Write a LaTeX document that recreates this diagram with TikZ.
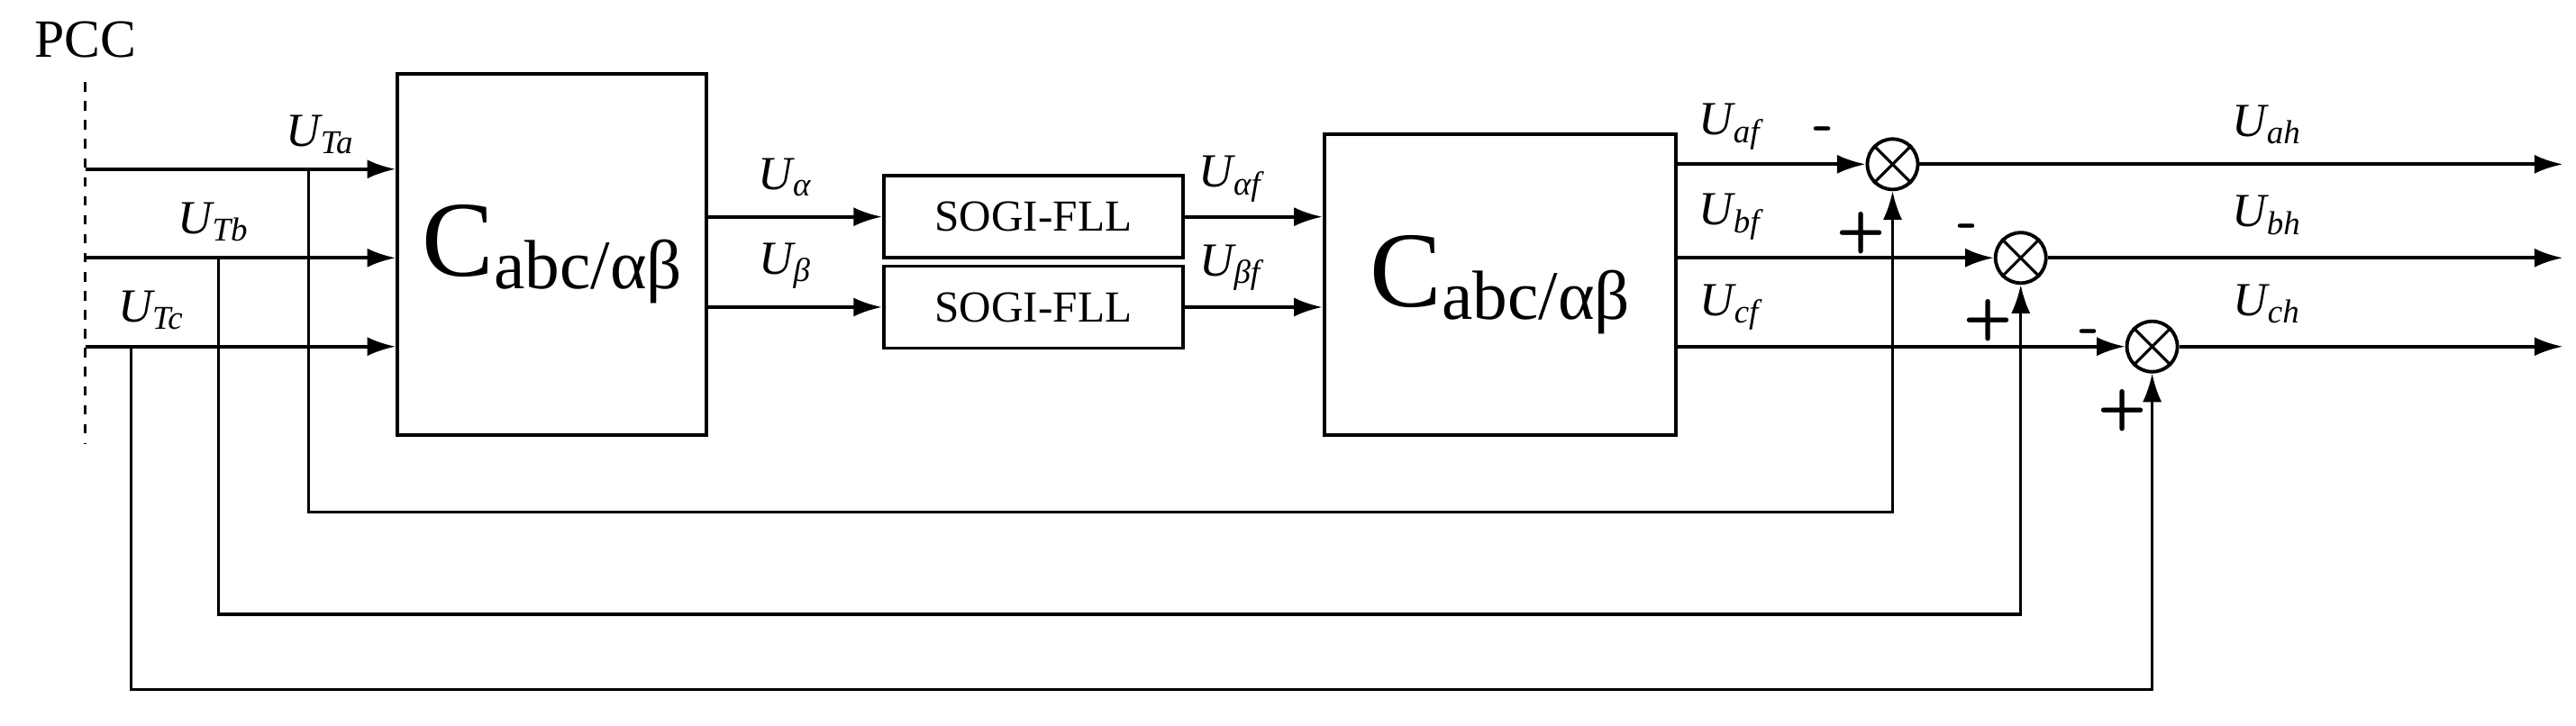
\documentclass[tikz,border=0pt]{standalone}
\usepackage{fontspec}
\setmainfont{Liberation Serif}
\usetikzlibrary{arrows.meta}
\begin{document}
\begin{tikzpicture}[x=0.018233cm,y=-0.018233cm,line width=1.1pt,
  blk/.style={draw,line width=1.1pt,inner sep=0},
  sum/.style={draw,circle,minimum size=0.56cm,inner sep=0,line width=1.1pt},
  arr/.style={-{Latex[length=9pt,width=6pt]}},
  lab/.style={font=\fontsize{15pt}{15pt}\selectfont\itshape,inner sep=0},
  sg/.style={font=\sffamily\bfseries\fontsize{18pt}{18pt}\selectfont,inner sep=0}]
\useasboundingbox (0,0) rectangle (1568,441.5);
\node[font=\fontsize{17pt}{17pt}\selectfont] (pcc) at (52,24) {PCC};
\draw[dashed,line width=0.8pt] (52,50) -- (52,270);
% blocks
\node[blk,minimum width=3.43cm,minimum height=4.01cm] (c1) at (336,155) {};
\node at (c1) {\fontsize{34pt}{34pt}\selectfont C\raisebox{-4pt}{\fontsize{22pt}{22pt}\selectfont abc/αβ}};
\node[blk,minimum width=3.32cm,minimum height=0.91cm,font=\fontsize{14pt}{14pt}\selectfont] (s1) at (629,132) {SOGI-FLL};
\node[blk,minimum width=3.32cm,minimum height=0.91cm,font=\fontsize{14pt}{14pt}\selectfont] (s2) at (629,187) {SOGI-FLL};
\node[blk,minimum width=3.90cm,minimum height=3.34cm] (c2) at (913,173.5) {};
\node at (c2) {\fontsize{34pt}{34pt}\selectfont C\raisebox{-4pt}{\fontsize{22pt}{22pt}\selectfont abc/αβ}};
\node[sum] (x1) at (1152,100) {};
\node[sum] (x2) at (1230,157) {};
\node[sum] (x3) at (1310,211) {};
\foreach \s in {x1,x2,x3}{\draw[line width=0.9pt] (\s.north west)--(\s.south east) (\s.north east)--(\s.south west);}
% inputs
\coordinate (ia) at (52,103); \coordinate (ib) at (52,157); \coordinate (ic) at (52,211);
\draw[arr] (ia) -- (ia-|c1.west);
\draw[arr] (ib) -- (ib-|c1.west);
\draw[arr] (ic) -- (ic-|c1.west);
\node[lab] at (195,82) {U\textsubscript{\itshape Ta}};
\node[lab] at (130,135) {U\textsubscript{\itshape Tb}};
\node[lab] at (92,189) {U\textsubscript{\itshape Tc}};
% alpha beta
\draw[arr] (c1.east|-s1) -- (s1.west);
\draw[arr] (c1.east|-s2) -- (s2.west);
\node[lab] at (478,108) {U\textsubscript{\itshape α}};
\node[lab] at (478,162) {U\textsubscript{\itshape β}};
\draw[arr] (s1.east) -- (s1.east-|c2.west);
\draw[arr] (s2.east) -- (s2.east-|c2.west);
\node[lab] at (749,109) {U\textsubscript{\itshape αf}};
\node[lab] at (749,163) {U\textsubscript{\itshape βf}};
% outputs of c2
\draw[arr] (c2.east|-x1) -- (x1.west);
\draw[arr] (c2.east|-x2) -- (x2.west);
\draw[arr] (c2.east|-x3) -- (x3.west);
\node[lab] at (1053,77) {U\textsubscript{\itshape af}};
\node[lab] at (1053,132) {U\textsubscript{\itshape bf}};
\node[lab] at (1053,187) {U\textsubscript{\itshape cf}};
\node[sg] at (1110,82) {-};
\node[sg] at (1198,141) {-};
\node[sg] at (1272,205) {-};
\node[sg] at (1133,142) {+};
\node[sg] at (1210,195) {+};
\node[sg] at (1292,250) {+};
% outputs
\coordinate (oa) at (1560,100); \coordinate (ob) at (1560,157); \coordinate (oc) at (1560,211);
\draw[arr] (x1.east) -- (oa);
\draw[arr] (x2.east) -- (ob);
\draw[arr] (x3.east) -- (oc);
\node[lab] at (1380,76) {U\textsubscript{\itshape ah}};
\node[lab] at (1380,131) {U\textsubscript{\itshape bh}};
\node[lab] at (1380,185) {U\textsubscript{\itshape ch}};
% feedback
\draw[line width=0.9pt,arr] (188,103) -- (188,312) -| (x1.south);
\draw[line width=0.9pt,arr] (133,157) -- (133,374) -| (x2.south);
\draw[line width=0.9pt,arr] (80,211) -- (80,420) -| (x3.south);
\end{tikzpicture}
\end{document}
